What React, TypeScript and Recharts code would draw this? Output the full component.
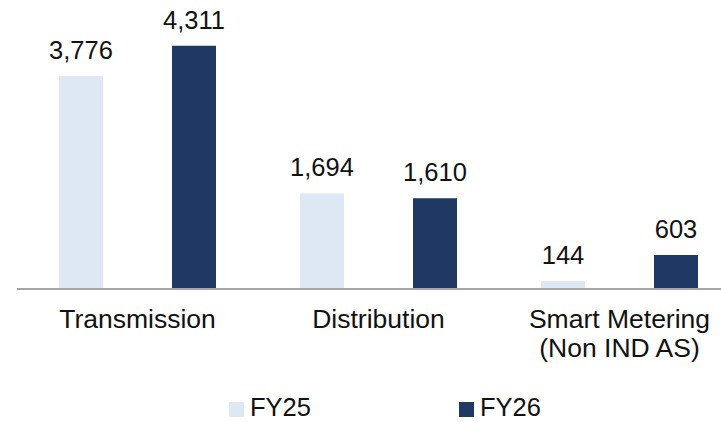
import { Bar, BarChart, LabelList, Legend, XAxis, YAxis } from "recharts";

const CATEGORIES = ["Transmission", "Distribution", "Smart Metering\n(Non IND AS)"];
const FY25 = [3776, 1694, 144];
const FY26 = [4311, 1610, 603];

const SERIES = [
  { key: "fy25", label: "FY25", color: "#DEE8F4", values: FY25 },
  { key: "fy26", label: "FY26", color: "#203864", values: FY26 },
];

const data = CATEGORIES.map((name, i) => ({
  name,
  fy25: FY25[i],
  fy26: FY26[i],
}));

const FONT = "'Liberation Sans', Arial, sans-serif";

function CategoryTick({ x, y, payload }: any) {
  const lines = String(payload.value).split("\n");
  return (
    <text x={x} y={y} textAnchor="middle" fill="#111" fontSize={26.5} fontFamily={FONT}>
      {lines.map((line, i) => (
        <tspan key={i} x={x} dy={i === 0 ? 39 : 29}>
          {line}
        </tspan>
      ))}
    </text>
  );
}

function LegendContent() {
  return (
    <div style={{ display: "flex", paddingLeft: 229, height: 30, alignItems: "center", fontFamily: FONT }}>
      {SERIES.map((s) => (
        <div key={s.key} style={{ display: "flex", alignItems: "center", width: 230 }}>
          <span style={{ width: 15, height: 15, background: s.color, marginRight: 6, marginTop: 5 }} />
          <span style={{ fontSize: 25.5, color: "#111", lineHeight: "30px" }}>{s.label}</span>
        </div>
      ))}
    </div>
  );
}

export default function App() {
  return (
    <div style={{ position: "absolute", left: 0, top: 0, width: 721, height: 422, overflow: "hidden", background: "#fff" }}>
      <BarChart
        width={740}
        height={422}
        data={data}
        margin={{ top: 7, right: 0, bottom: 0, left: 17 }}
        barGap={69}
        barSize={44}
      >
        <XAxis
          dataKey="name"
          height={103}
          tickLine={false}
          tickSize={0}
          tickMargin={0}
          axisLine={{ stroke: "#A6A6A6", strokeWidth: 2 }}
          tick={<CategoryTick />}
          interval={0}
        />
        <YAxis hide domain={[0, 5000]} />
        <Legend
          verticalAlign="bottom"
          height={30}
          wrapperStyle={{ left: 0, width: 721 }}
          content={<LegendContent />}
        />
        {SERIES.map((s) => (
          <Bar key={s.key} dataKey={s.key} name={s.label} fill={s.color} isAnimationActive={false}>
            <LabelList
              dataKey={s.key}
              position="top"
              offset={17}
              formatter={(v: any) => Number(v).toLocaleString("en-US")}
              style={{ fontSize: 25.5, fontFamily: FONT, fill: "#111" }}
            />
          </Bar>
        ))}
      </BarChart>
    </div>
  );
}
